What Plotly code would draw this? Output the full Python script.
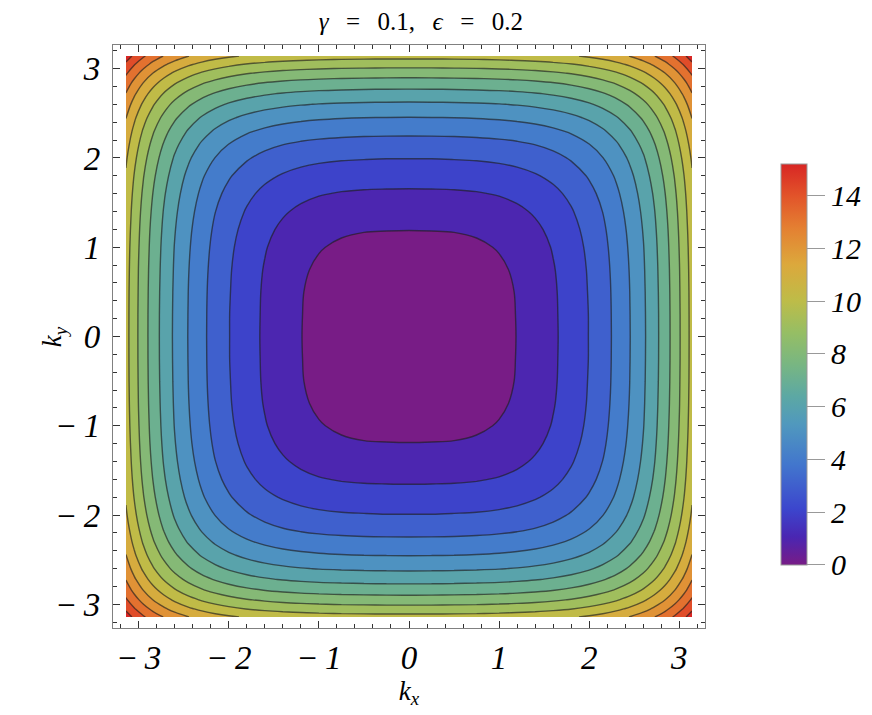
import numpy as np
import plotly.graph_objects as go

# ---- data (one quadrant 0..pi; the field is mirror-symmetric in kx and ky) ----
k_nodes = [0, 0.25, 0.5, 0.75, 1.0, 1.2, 1.4, 1.6, 1.8, 2.0, 2.15, 2.3, 2.45, 2.6, 2.72, 2.84, 2.95, 3.05, 3.1416]
energy = [
    [0, 0.04, 0.18, 0.39, 0.7, 1.02, 1.4, 1.85, 2.39, 3.03, 3.59, 4.23, 4.97, 5.83, 6.62, 7.52, 8.44, 9.39, 10.34],
    [0.04, 0.07, 0.19, 0.4, 0.71, 1.03, 1.41, 1.86, 2.4, 3.03, 3.59, 4.24, 4.98, 5.84, 6.63, 7.52, 8.45, 9.39, 10.35],
    [0.18, 0.19, 0.26, 0.45, 0.75, 1.05, 1.43, 1.88, 2.42, 3.06, 3.61, 4.26, 5, 5.86, 6.65, 7.54, 8.47, 9.41, 10.36],
    [0.39, 0.4, 0.45, 0.59, 0.85, 1.14, 1.5, 1.94, 2.47, 3.1, 3.66, 4.3, 5.04, 5.9, 6.69, 7.58, 8.5, 9.44, 10.4],
    [0.7, 0.71, 0.75, 0.85, 1.06, 1.31, 1.64, 2.06, 2.57, 3.19, 3.74, 4.38, 5.11, 5.96, 6.75, 7.64, 8.56, 9.5, 10.45],
    [1.02, 1.03, 1.05, 1.14, 1.31, 1.53, 1.83, 2.22, 2.71, 3.31, 3.85, 4.47, 5.2, 6.05, 6.83, 7.71, 8.63, 9.57, 10.52],
    [1.4, 1.41, 1.43, 1.5, 1.64, 1.83, 2.1, 2.46, 2.92, 3.49, 4.01, 4.62, 5.33, 6.17, 6.94, 7.82, 8.73, 9.66, 10.61],
    [1.85, 1.86, 1.88, 1.94, 2.06, 2.22, 2.46, 2.78, 3.2, 3.74, 4.24, 4.83, 5.52, 6.34, 7.1, 7.97, 8.87, 9.79, 10.73],
    [2.39, 2.4, 2.42, 2.47, 2.57, 2.71, 2.92, 3.2, 3.58, 4.09, 4.55, 5.11, 5.78, 6.58, 7.32, 8.17, 9.06, 9.97, 10.9],
    [3.03, 3.03, 3.06, 3.1, 3.19, 3.31, 3.49, 3.74, 4.09, 4.54, 4.98, 5.5, 6.14, 6.9, 7.62, 8.45, 9.32, 10.22, 11.13],
    [3.59, 3.59, 3.61, 3.66, 3.74, 3.85, 4.01, 4.24, 4.55, 4.98, 5.38, 5.88, 6.49, 7.22, 7.92, 8.73, 9.58, 10.46, 11.36],
    [4.23, 4.24, 4.26, 4.3, 4.38, 4.47, 4.62, 4.83, 5.11, 5.5, 5.88, 6.35, 6.92, 7.62, 8.29, 9.08, 9.91, 10.77, 11.65],
    [4.97, 4.98, 5, 5.04, 5.11, 5.2, 5.33, 5.52, 5.78, 6.14, 6.49, 6.92, 7.46, 8.13, 8.77, 9.52, 10.32, 11.16, 12.02],
    [5.83, 5.84, 5.86, 5.9, 5.96, 6.05, 6.17, 6.34, 6.58, 6.9, 7.22, 7.62, 8.13, 8.75, 9.36, 10.08, 10.85, 11.65, 12.49],
    [6.62, 6.63, 6.65, 6.69, 6.75, 6.83, 6.94, 7.1, 7.32, 7.62, 7.92, 8.29, 8.77, 9.36, 9.94, 10.62, 11.37, 12.15, 12.96],
    [7.52, 7.52, 7.54, 7.58, 7.64, 7.71, 7.82, 7.97, 8.17, 8.45, 8.73, 9.08, 9.52, 10.08, 10.62, 11.28, 11.99, 12.74, 13.52],
    [8.44, 8.45, 8.47, 8.5, 8.56, 8.63, 8.73, 8.87, 9.06, 9.32, 9.58, 9.91, 10.32, 10.85, 11.37, 11.99, 12.67, 13.39, 14.14],
    [9.39, 9.39, 9.41, 9.44, 9.5, 9.57, 9.66, 9.79, 9.97, 10.22, 10.46, 10.77, 11.16, 11.65, 12.15, 12.74, 13.39, 14.08, 14.81],
    [10.34, 10.35, 10.36, 10.4, 10.45, 10.52, 10.61, 10.73, 10.9, 11.13, 11.36, 11.65, 12.02, 12.49, 12.96, 13.52, 14.14, 14.81, 15.51],
]
contour_levels = [1, 15, 1]  # start, end, step
tick_vals = [-3, -2, -1, 0, 1, 2, 3]
tick_text = ["\u2212\u20093", "\u2212\u20092", "\u2212\u20091", "0", "1", "2", "3"]
cbar_ticks = [0, 2, 4, 6, 8, 10, 12, 14]
cbar_range = [0, 15.2]

# ---- build the full mirrored table ----
n = len(k_nodes)
idx = list(range(n - 1, 0, -1)) + list(range(n))
k_full = [-k_nodes[i] for i in range(n - 1, 0, -1)] + k_nodes
Z = np.array(energy)[np.ix_(idx, idx)]

SERIF = "Liberation Serif, Times New Roman, Times, DejaVu Serif, serif"

cs = [
    [0.0, "rgb(120,28,134)"],
    [0.07, "rgb(74,38,178)"],
    [0.14, "rgb(60,70,205)"],
    [0.25, "rgb(66,118,205)"],
    [0.35, "rgb(80,152,190)"],
    [0.42, "rgb(92,168,164)"],
    [0.5, "rgb(120,182,130)"],
    [0.58, "rgb(150,190,100)"],
    [0.66, "rgb(190,188,72)"],
    [0.75, "rgb(220,168,60)"],
    [0.84, "rgb(228,128,50)"],
    [0.92, "rgb(226,84,42)"],
    [1.0, "rgb(216,38,36)"],
]

fig = go.Figure()
fig.add_trace(go.Contour(
    x=k_full, y=k_full, z=Z,
    contours=dict(start=contour_levels[0], end=contour_levels[1], size=contour_levels[2],
                  coloring="fill", showlines=True),
    line=dict(color="rgba(30,30,30,0.65)", width=1.4, smoothing=1),
    colorscale=cs, showscale=False, hoverinfo="skip",
))
fig.add_trace(go.Scatter(
    x=[0], y=[0], mode="markers", showlegend=False, hoverinfo="skip",
    marker=dict(size=1, opacity=0, color=[0], cmin=cbar_range[0], cmax=cbar_range[1],
                colorscale=cs, showscale=True,
                colorbar=dict(x=1.111, xanchor="left", xref="paper", y=0.452, yanchor="middle",
                              len=421, lenmode="pixels", thickness=26, outlinewidth=1, outlinecolor="#999",
                              ticks="outside", ticklen=18, tickcolor="#999", tickvals=cbar_ticks,
                              tickfont=dict(family=SERIF, size=30, style="italic", color="black"))),
))

axis_common = dict(
    showline=True, linecolor="#808080", linewidth=1.3, mirror="ticks",
    ticks="inside", ticklen=7, tickwidth=1.2, tickcolor="#333",
    showgrid=False, zeroline=False, tickvals=tick_vals, ticktext=tick_text,
    tickfont=dict(family=SERIF, size=33, style="italic", color="black"),
    minor=dict(ticks="inside", ticklen=3.5, dtick=0.2, tick0=0, tickcolor="#333", showgrid=False),
)
fig.update_xaxes(**axis_common, range=[-3.285, 3.285], ticklabelstandoff=0,
                 title=dict(text="<i>k</i><sub><i>x</i></sub>", font=dict(family=SERIF, size=27, color="black"), standoff=0))
fig.update_yaxes(**axis_common, range=[-3.265, 3.265], ticklabelstandoff=5)

fig.add_annotation(text="<i>k</i><sub><i>y</i></sub>", xref="paper", yref="paper",
                   x=-0.1, y=0.5, xanchor="center", yanchor="middle", textangle=-90,
                   showarrow=False, font=dict(family=SERIF, size=27, color="black"))

fig.update_layout(
    width=872, height=715,
    margin=dict(l=105, r=175, t=37, b=95, autoexpand=False),
    paper_bgcolor="white", plot_bgcolor="white",
    title=dict(text="<i>\u03b3</i>\u2002\u2009=\u2002\u20090.1,\u2002\u2009<i>\u03f5</i>\u2002\u2009=\u2002\u20090.2",
               x=0.52, xref="paper", xanchor="center", y=0.981, yref="container", yanchor="middle",
               font=dict(family=SERIF, size=25, color="black")),
)
fig.write_html("out.html")
